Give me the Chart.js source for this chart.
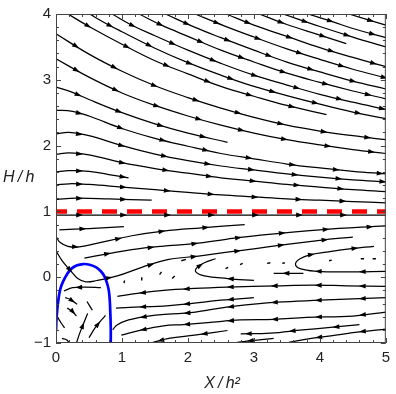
<!DOCTYPE html>
<html><head><meta charset="utf-8">
<script src="https://cdn.jsdelivr.net/npm/chart.js@4/dist/chart.umd.min.js"></script>
<style>html,body{margin:0;padding:0;background:#fff}#wrap{width:396px;height:394px;position:relative}</style>
</head><body><div id="wrap"><canvas id="c"></canvas></div>
<script>
// ---------- data ----------
const xTickValues=[0,1,2,3,4,5];
const xTickLabels=['0','1','2','3','4','5'];
const yTickValues=[-1,0,1,2,3,4];
const yTickLabels=['\u22121','0','1','2','3','4'];
const criticalLevel=[[0,1],[5,1]];
const blueCurve=[[0,-0.82],[0.01,-0.6],[0.035,-0.35],[0.065,-0.18],[0.11,-0.06],[0.17,0.05],[0.235,0.13],[0.32,0.18],[0.41,0.20],[0.51,0.19],[0.61,0.15],[0.68,0.09],[0.73,0.02],[0.77,-0.08],[0.80,-0.20],[0.815,-0.35],[0.822,-0.5],[0.83,-0.77],[0.83,-1.0]];
// streamlines entering through the top edge (flow to the right)
const upperStreams=[
 [[0.18,4],[0.5,3.81],[1,3.54],[1.5,3.29],[2,3.09],[2.5,2.90],[3,2.75],[3.5,2.61],[4.1,2.47]],
 [[0.51,4],[0.75,3.86],[1,3.73],[1.5,3.48],[2,3.26],[2.5,3.07],[3,2.90],[3.5,2.76],[4,2.63],[4.5,2.51],[5,2.41]],
 [[0.85,4],[1.15,3.83],[1.5,3.67],[2,3.45],[2.5,3.25],[3,3.07],[3.5,2.92],[4,2.78],[4.5,2.66],[5,2.55]],
 [[1.26,4],[1.6,3.83],[2,3.66],[2.5,3.45],[3,3.27],[3.5,3.10],[4,2.96],[4.5,2.83],[5,2.71]],
 [[1.66,4],[2.1,3.80],[2.5,3.64],[3,3.45],[3.5,3.27],[4,3.12],[4.5,2.98],[5,2.86]],
 [[2.11,4],[2.55,3.82],[3,3.65],[3.5,3.47],[4,3.31],[4.5,3.16],[5,3.03]],
 [[2.58,4],[3.0,3.83],[3.5,3.66],[4,3.49],[4.5,3.34],[5,3.20]],
 [[3.08,4],[3.5,3.84],[4,3.68],[4.4,3.55]],
 [[3.44,4],[4,3.81],[4.5,3.65],[5,3.50]],
 [[3.82,4],[4.2,3.88],[4.5,3.78],[5,3.64]],
 [[4.44,4],[5,3.83]]
];
// streamlines starting at the left edge above H/h = 1
const leftStreams=[
 [[0,3.70],[0.5,3.39],[1,3.13],[1.5,2.91],[2,2.73],[2.5,2.57],[3,2.43],[3.5,2.31],[4,2.22],[4.5,2.15],[5,2.09]],
 [[0,3.32],[0.5,3.04],[1,2.80],[1.5,2.61],[2,2.45],[2.5,2.31],[3,2.19],[3.5,2.09],[4,2.01],[4.5,1.94],[5,1.88]],
 [[0,2.89],[0.25,2.81],[0.5,2.70],[1,2.50],[1.5,2.33],[2,2.19],[2.6,2.05]],
 [[0,2.54],[0.25,2.52],[0.5,2.45],[1,2.26],[1.5,2.11],[2,1.99],[2.5,1.88],[3,1.80],[3.5,1.72],[4,1.66],[4.5,1.61],[5,1.57]],
 [[0,2.18],[0.2,2.20],[0.5,2.15],[1,2.0],[1.5,1.87],[2,1.77],[2.5,1.69],[3,1.63],[3.5,1.57],[4,1.52],[4.5,1.48],[5,1.45]],
 [[0,1.87],[0.2,1.89],[0.5,1.86],[1,1.74],[1.5,1.65],[2,1.58],[2.5,1.51],[3,1.46],[3.5,1.41],[4,1.37],[4.5,1.33],[5,1.30]],
 [[0,1.60],[0.2,1.62],[0.5,1.61],[0.8,1.56],[1.1,1.51]],
 [[0,1.40],[0.2,1.42],[0.5,1.41],[1,1.37],[1.5,1.33],[2,1.29],[2.5,1.25],[3,1.22],[3.5,1.19],[4,1.17],[4.5,1.15],[5,1.13]],
 [[0,1.18],[0.3,1.20],[0.8,1.19],[1.45,1.17]]
];
// streamlines between the recirculation and H/h = 1
const bandStreams=[
 [[0,0.945],[5,0.945]],
 [[0.05,0.72],[0.5,0.74],[1.03,0.77]],
 [[0,0.62],[0.06,0.53],[0.18,0.47],[0.35,0.46],[0.6,0.51],[1.15,0.63],[1.63,0.70],[2.2,0.75],[2.86,0.80]],
 [[0.43,0.29],[0.8,0.36],[1.15,0.42],[1.6,0.47],[2.1,0.51],[2.6,0.58],[3.1,0.64],[4.0,0.72],[5,0.78]],
 [[0,0.40],[0.1,0.24],[0.22,0.10],[0.33,-0.02],[0.45,-0.07],[0.62,-0.05],[0.93,0.02],[1.3,0.15],[1.71,0.27],[2.16,0.32],[2.6,0.38],[3.0,0.43],[3.5,0.50],[4.0,0.56],[4.5,0.61]],
 [[3.0,-0.05],[2.6,-0.02],[2.25,0.02],[2.12,0.08],[2.14,0.15],[2.25,0.22],[2.42,0.28]],
 [[5,0.09],[4.4,0.08],[3.95,0.09],[3.7,0.13],[3.63,0.2],[3.7,0.28],[3.85,0.34],[4.1,0.38],[4.45,0.43],[4.82,0.47]],
 [[3.75,0.06],[3.3,0.06]]
];
// streamlines below the recirculation (flow to the left)
const lowerStreams=[
 [[5,-0.14],[4.4,-0.13],[3.9,-0.12],[3.35,-0.13],[2.6,-0.15],[2.1,-0.17],[1.63,-0.20],[1.2,-0.25],[0.93,-0.29]],
 [[3.0,-0.31],[2.5,-0.35],[2.04,-0.40],[1.63,-0.44],[1.3,-0.45],[0.91,-0.47]],
 [[5,-0.31],[4.0,-0.35],[3.35,-0.38],[2.71,-0.44],[2.3,-0.50],[2.04,-0.54],[1.7,-0.56],[1.4,-0.59],[1.1,-0.65],[0.92,-0.73],[0.86,-0.8]],
 [[5,-0.53],[4.5,-0.59],[3.8,-0.61],[3.3,-0.64],[2.8,-0.65],[2.3,-0.69],[1.93,-0.72],[1.63,-0.74],[1.3,-0.80],[0.99,-0.88]],
 [[4.6,-0.72],[4.2,-0.76],[3.74,-0.80],[3.25,-0.85],[2.8,-0.86]],
 [[5,-0.79],[4.6,-0.83],[4.24,-0.88],[3.8,-0.94],[3.5,-1.0]],
 [[2.6,-0.81],[2.1,-0.88],[1.71,-0.93],[1.44,-1.0]],
 [[3.3,-0.93],[2.9,-0.97],[2.7,-1.0]]
];
// streamlines inside the blue curve
const arcStreams=[
 [[0.31,-1.0],[0.36,-0.85],[0.42,-0.7],[0.48,-0.55]],
 [[0.5,-0.92],[0.6,-0.76],[0.75,-0.58]],
 [[0.68,-0.16],[0.45,-0.15],[0.25,-0.16],[0.12,-0.21]],
 [[0.14,-0.31],[0.22,-0.34],[0.32,-0.41]],
 [[0.17,-0.47],[0.25,-0.52],[0.31,-0.59]],
 [[0.03,-0.62],[0.08,-0.70],[0.13,-0.77]],
 [[0.09,-0.93],[0.16,-0.95],[0.2,-1.0]],
 [[0.47,-0.37],[0.55,-0.50]]
];
// very short marks near the stagnation line
const tinyStreams=[
 [[2.57,0.13],[2.61,0.15]],[[2.79,0.19],[2.83,0.21]],[[3.2,0.21],[3.25,0.22]],[[3.43,0.21],[3.47,0.22]],
 [[4.14,0.25],[4.18,0.26]],[[4.62,0.28],[4.67,0.28]],[[4.8,0.28],[4.85,0.28]],
 [[1.03,-0.09],[1.04,-0.05]],[[1.29,-0.04],[1.30,0.0]],[[1.57,0.04],[1.60,0.08]],[[1.9,0.25],[1.97,0.27]],[[1.76,-0.02],[1.8,0.02]]
];

// ---------- chart ----------
const FONT='"Liberation Sans", Arial, sans-serif';
const toXY=a=>a.map(p=>({x:p[0],y:p[1]}));
const datasets=[];
datasets.push({data:toXY(criticalLevel),showLine:true,borderColor:'#ff0000',borderWidth:4.5,borderDash:[15,10],borderDashOffset:4,pointRadius:0,tension:0,order:0});
datasets.push({data:toXY(blueCurve),showLine:true,borderColor:'#0000ff',borderWidth:2.7,pointRadius:0,tension:0.4,order:1});
[...upperStreams,...leftStreams,...bandStreams,...lowerStreams,...arcStreams].forEach(s=>{
  datasets.push({data:toXY(s),showLine:true,borderColor:'#000',borderWidth:1.25,pointRadius:0,tension:0.4,order:2,arrows:true});
});
tinyStreams.forEach(s=>{
  datasets.push({data:toXY(s),showLine:true,borderColor:'#000',borderWidth:1.4,pointRadius:0,tension:0,order:2,arrows:false});
});

const arrowPlugin={id:'arrowHeads',afterDatasetsDraw(chart){
  const ctx=chart.ctx,a=chart.chartArea;
  ctx.save();ctx.beginPath();ctx.rect(a.left,a.top,a.right-a.left,a.bottom-a.top);ctx.clip();
  ctx.fillStyle='#000';
  chart.data.datasets.forEach((ds,i)=>{
    if(!ds.arrows)return;
    const pts=chart.getDatasetMeta(i).data.map(p=>[p.x,p.y]);
    const segs=[];let L=0;
    for(let k=1;k<pts.length;k++){const l=Math.hypot(pts[k][0]-pts[k-1][0],pts[k][1]-pts[k-1][1]);segs.push([L,l,k]);L+=l;}
    if(L<12)return;
    const sp=44;
    for(let s=Math.min(24,L*0.6);s<=L-1;s+=sp){
      const sg=segs.find(q=>s>=q[0]&&s<=q[0]+q[1])||segs[segs.length-1];
      const k=sg[2],t=(s-sg[0])/sg[1];
      const p0=pts[k-1],p1=pts[k];
      const x=p0[0]+(p1[0]-p0[0])*t,y=p0[1]+(p1[1]-p0[1])*t;
      const dx=(p1[0]-p0[0])/sg[1],dy=(p1[1]-p0[1])/sg[1];
      const tx=x+dx*3,ty=y+dy*3,bx=tx-dx*6.8,by=ty-dy*6.8;
      ctx.beginPath();ctx.moveTo(tx,ty);ctx.lineTo(bx-dy*2.4,by+dx*2.4);ctx.lineTo(bx+dy*2.4,by-dx*2.4);ctx.closePath();ctx.fill();
    }
  });
  ctx.restore();
}};

const framePlugin={id:'frameTicks',afterDraw(chart){
  const {ctx,chartArea:a,scales:{x,y}}=chart;
  ctx.save();
  ctx.strokeStyle='#444';ctx.lineWidth=1;
  ctx.strokeRect(a.left+0.5,a.top+0.5,a.right-a.left-1,a.bottom-a.top-1);
  ctx.beginPath();
  for(let k=0;k<=25;k++){
    const v=x.min+k*(x.max-x.min)/25, px=Math.round(x.getPixelForValue(v))+0.5, len=(k%5===0)?5:3;
    ctx.moveTo(px,a.bottom);ctx.lineTo(px,a.bottom-len);ctx.moveTo(px,a.top);ctx.lineTo(px,a.top+len);
    const w=y.min+k*(y.max-y.min)/25, py=Math.round(y.getPixelForValue(w))+0.5;
    ctx.moveTo(a.left,py);ctx.lineTo(a.left+len,py);ctx.moveTo(a.right,py);ctx.lineTo(a.right-len,py);
  }
  ctx.stroke();
  ctx.fillStyle='#222';
  ctx.font='italic 16px '+FONT;
  ctx.textAlign='left';ctx.textBaseline='alphabetic';
  ctx.fillText('H\u2009/\u2009h',3,182);
  ctx.textAlign='center';
  ctx.fillText('X\u2009/\u2009h\u00B2',222,388);
  ctx.restore();
}};

new Chart(document.getElementById('c'),{
  type:'scatter',
  data:{datasets},
  options:{
    responsive:true,maintainAspectRatio:false,animation:false,
    layout:{padding:{left:0,right:6,top:10,bottom:0}},
    plugins:{legend:{display:false},tooltip:{enabled:false}},
    scales:{
      x:{type:'linear',min:0,max:5,
         afterFit:s=>{s.height=51;},
         afterBuildTicks:s=>{s.ticks=xTickValues.map(v=>({value:v}));},
         ticks:{padding:6,color:'#222',font:{size:15,family:FONT},maxRotation:0,autoSkip:false,
                callback:(v)=>xTickLabels[xTickValues.indexOf(v)]},
         grid:{display:false,drawTicks:false},border:{display:false}},
      y:{type:'linear',min:-1,max:4,
         afterFit:s=>{s.width=56;},
         afterBuildTicks:s=>{s.ticks=yTickValues.map(v=>({value:v}));},
         ticks:{padding:5,color:'#222',font:{size:15,family:FONT},autoSkip:false,
                callback:(v)=>yTickLabels[yTickValues.indexOf(v)]},
         grid:{display:false,drawTicks:false},border:{display:false}}
    }
  },
  plugins:[arrowPlugin,framePlugin]
});
</script></body></html>
